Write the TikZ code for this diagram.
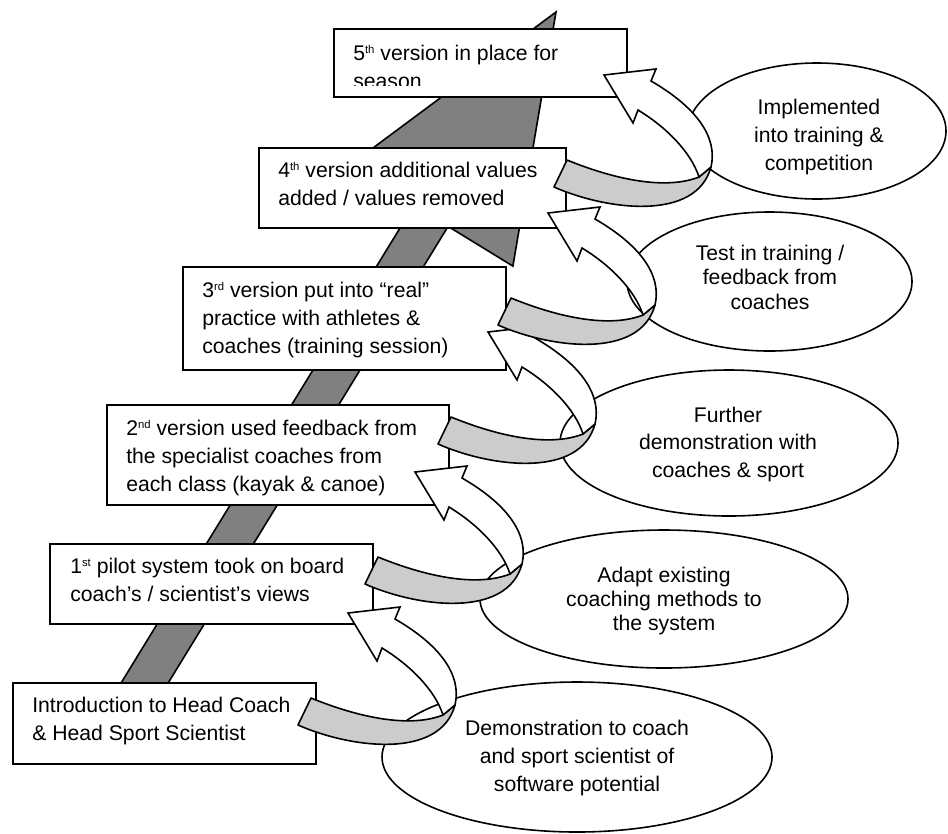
\documentclass[tikz,border=0pt]{standalone}
\usepackage{fontspec}
\setmainfont{Liberation Sans}
\usetikzlibrary{shapes.geometric}
\definecolor{arrowgrey}{RGB}{128,128,128}
\definecolor{ribbongrey}{RGB}{204,204,204}
\tikzset{
  stepbox/.style={draw=black, line width=1.2pt, fill=white, rectangle, inner sep=0pt, anchor=north west},
  boxtext/.style={anchor=north west, inner sep=0pt, align=left, font=\fontsize{15.9pt}{21pt}\selectfont},
  oval/.style={draw=black, line width=1.2pt, fill=white, ellipse, inner sep=0pt},
  ovaltext/.style={anchor=north, inner sep=0pt, align=center},
  bigarrow/.style={draw=black, line width=1.2pt, fill=arrowgrey, line join=miter},
  ribbonback/.style={draw=black, line width=1.2pt, fill=ribbongrey, line join=round},
  ribbonfront/.style={draw=black, line width=1.2pt, fill=white, line join=miter}
}
\newcommand{\firstline}{\rule{0pt}{16pt}}
\newcommand{\sups}[1]{\raisebox{5.3pt}{\fontsize{8.5pt}{8.5pt}\selectfont #1}}
\newcommand{\ribbonarrow}[2]{%
  \begin{scope}[shift={(#1,#2)}]
    \path[ribbonback] (311,698) .. controls (360,718) and (410,728) .. (443,715)
      -- (455,705) .. controls (440,760) and (350,748) .. (298,725) -- cycle;
    \path[ribbonfront] (443,715) .. controls (435,690) and (410,665) .. (382,648)
      -- (377,661) -- (348,613) -- (400,607) -- (395,619)
      .. controls (440,645) and (462,675) .. (455,705) -- cycle;
  \end{scope}}
\begin{document}
\begin{tikzpicture}[x=0.75pt,y=-0.75pt]
\useasboundingbox (0,0) rectangle (948,833);
\fill[white] (0,0) rectangle (948,833);

% main grey arrow
\coordinate (tip) at (556,12);
\coordinate (rw) at (512.9,266.1);
\coordinate (rn) at (448.1,226.4);
\coordinate (rt) at (123.3,756.1);
\coordinate (lt) at (89.1,735.1);
\coordinate (ln) at (413.9,205.4);
\coordinate (lw) at (349.1,165.7);
\path[bigarrow] (tip) -- (rw) -- (rn) -- (rt) -- (lt) -- (ln) -- (lw) -- cycle;

% boxes
\node[stepbox, minimum width=303*0.75pt, minimum height=81*0.75pt] (b0) at (12,682) {};
\node[boxtext] (t0) at (32,690.67) {\firstline Introduction to Head Coach\\\& Head Sport Scientist};

\node[stepbox, minimum width=323*0.75pt, minimum height=80*0.75pt] (b1) at (49,543) {};
\node[boxtext] (t1) at (70,551.67) {\firstline 1\sups{st} pilot system took on board\\coach’s / scientist’s views};

\node[stepbox, minimum width=342*0.75pt, minimum height=100*0.75pt] (b2) at (106,404) {};
\node[boxtext] (t2) at (126,413.67) {\firstline 2\sups{nd} version used feedback from\\the specialist coaches from\\each class (kayak \& canoe)};

\node[stepbox, minimum width=323*0.75pt, minimum height=103*0.75pt] (b3) at (182,266) {};
\node[boxtext] (t3) at (202,275.67) {\firstline 3\sups{rd} version put into “real”\\practice with athletes \&\\coaches (training session)};

\node[stepbox, minimum width=307*0.75pt, minimum height=80*0.75pt] (b4) at (258,147) {};
\node[boxtext] (t4) at (278,155.67) {\firstline 4\sups{th} version additional values\\added / values removed};

\node[stepbox, minimum width=293*0.75pt, minimum height=68*0.75pt] (b5) at (333,28) {};
\begin{scope}
  \clip (333,28) rectangle (626,85);
  \node[boxtext] (t5) at (353,38.67) {\firstline 5\sups{th} version in place for\\season};
\end{scope}

% ellipses
\node[oval, minimum width=390*0.75pt, minimum height=150*0.75pt] (e0) at (577,757) {};
\node[ovaltext, font=\fontsize{15.9pt}{21pt}\selectfont] (e0t) at (577,713.67) {\firstline Demonstration to coach\\and sport scientist of\\software potential};

\node[oval, minimum width=368*0.75pt, minimum height=138*0.75pt] (e1) at (664,599) {};
\node[ovaltext, font=\fontsize{15.9pt}{18pt}\selectfont] (e1t) at (664,560.67) {\firstline Adapt existing\\coaching methods to\\the system};

\node[oval, minimum width=338*0.75pt, minimum height=146*0.75pt] (e2) at (729,443) {};
\node[ovaltext, font=\fontsize{15.9pt}{20.6pt}\selectfont] (e2t) at (728,400.67) {\firstline Further\\demonstration with\\coaches \& sport};

\node[oval, minimum width=285*0.75pt, minimum height=139*0.75pt] (e3) at (769.5,281.5) {};
\node[ovaltext, font=\fontsize{15.9pt}{18.4pt}\selectfont] (e3t) at (770,238.67) {\firstline Test in training /\\feedback from\\coaches};

\node[oval, minimum width=258*0.75pt, minimum height=136*0.75pt] (e4) at (817,131) {};
\node[ovaltext, font=\fontsize{15.9pt}{21pt}\selectfont] (e4t) at (819,92.67) {\firstline Implemented\\into training \&\\competition};

% curved ribbon arrows
\ribbonarrow{0}{0}
\ribbonarrow{67}{-141}
\ribbonarrow{140}{-281}
\ribbonarrow{200}{-400}
\ribbonarrow{256}{-538}
\end{tikzpicture}
\end{document}
